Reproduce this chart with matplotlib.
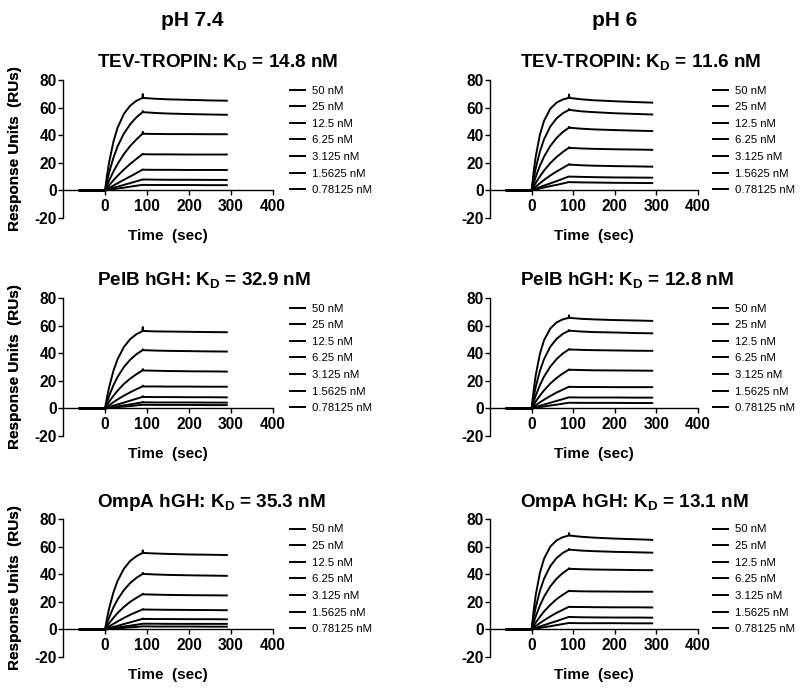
import matplotlib
matplotlib.use("Agg")
import matplotlib.pyplot as plt

plt.rcParams["font.family"] = ["Liberation Sans", "DejaVu Sans"]
plt.rcParams["mathtext.fontset"] = "custom"
plt.rcParams["mathtext.rm"] = "Liberation Sans"
plt.rcParams["mathtext.bf"] = "Liberation Sans:bold"
plt.rcParams["axes.unicode_minus"] = False

# time points (sec)
t = [-60, 0, 5, 10, 20, 30, 45, 60, 75, 89, 90, 91, 120, 150, 200, 250, 290]

conc_labels = ["50 nM", "25 nM", "12.5 nM", "6.25 nM", "3.125 nM", "1.5625 nM", "0.78125 nM"]

tev_74 = [
    [0, 0, 11.3, 20.6, 35.2, 45.5, 55.5, 61.4, 65.0, 67.0, 69.8, 67.0, 66.4, 66.0, 65.6, 65.2, 65.0],
    [0, 0, 7.0, 13.2, 23.6, 31.9, 41.2, 48.0, 53.0, 56.6, 57.5, 56.7, 56.1, 55.7, 55.3, 55.0, 54.8],
    [0, 0, 3.7, 7.3, 13.6, 19.2, 26.3, 32.2, 37.0, 41.0, 42.5, 41.0, 40.9, 40.8, 40.8, 40.7, 40.7],
    [0, 0, 1.9, 3.8, 7.3, 10.6, 15.1, 19.2, 22.9, 26.2, 26.5, 26.2, 26.1, 26.1, 26.0, 26.0, 26.0],
    [0, 0, 0.9, 1.8, 3.5, 5.2, 7.7, 10.1, 12.6, 15.0, 15.2, 15.0, 14.9, 14.9, 14.8, 14.8, 14.8],
    [0, 0, 0.5, 0.9, 1.9, 2.7, 4.0, 5.3, 6.6, 7.9, 7.9, 7.9, 7.8, 7.7, 7.7, 7.6, 7.6],
    [0, 0, 0.2, 0.5, 0.9, 1.4, 2.0, 2.7, 3.4, 4.0, 4.0, 4.0, 3.9, 3.9, 3.9, 3.8, 3.8],
]
tev_6 = [
    [0, 0, 13.7, 24.7, 40.4, 50.5, 59.2, 63.6, 65.9, 67.0, 69.5, 67.0, 66.0, 65.3, 64.6, 64.0, 63.6],
    [0, 0, 8.7, 16.2, 28.2, 37.1, 46.3, 52.2, 55.9, 58.2, 59.0, 58.3, 57.3, 56.7, 55.9, 55.4, 55.0],
    [0, 0, 5.2, 9.9, 17.9, 24.5, 32.2, 38.0, 42.3, 45.3, 46.0, 45.4, 44.7, 44.2, 43.7, 43.3, 43.0],
    [0, 0, 2.8, 5.5, 10.2, 14.4, 19.8, 24.2, 27.8, 30.8, 31.3, 30.8, 30.4, 30.1, 29.8, 29.6, 29.4],
    [0, 0, 1.4, 2.7, 5.2, 7.6, 10.8, 13.7, 16.3, 18.7, 19.0, 18.7, 18.2, 17.9, 17.6, 17.4, 17.2],
    [0, 0, 0.6, 1.2, 2.4, 3.5, 5.1, 6.7, 8.4, 10.0, 10.0, 10.0, 9.8, 9.6, 9.4, 9.3, 9.2],
    [0, 0, 0.4, 0.7, 1.4, 2.1, 3.1, 4.0, 5.0, 6.0, 6.0, 6.0, 5.8, 5.7, 5.5, 5.4, 5.3],
]
pelb_74 = [
    [0, 0, 8.4, 15.6, 27.1, 35.7, 44.5, 50.2, 53.8, 56.0, 59.0, 56.1, 55.8, 55.7, 55.5, 55.3, 55.2],
    [0, 0, 4.8, 9.2, 16.7, 22.8, 30.0, 35.3, 39.3, 42.1, 42.8, 42.2, 41.9, 41.7, 41.5, 41.3, 41.2],
    [0, 0, 2.5, 4.9, 9.1, 12.9, 17.7, 21.6, 24.8, 27.5, 28.5, 27.5, 27.3, 27.1, 26.9, 26.8, 26.7],
    [0, 0, 1.2, 2.3, 4.5, 6.5, 9.2, 11.7, 13.9, 15.9, 16.5, 15.9, 15.9, 15.8, 15.8, 15.7, 15.7],
    [0, 0, 0.5, 1.0, 2.0, 2.9, 4.2, 5.6, 7.0, 8.3, 8.9, 8.3, 8.2, 8.2, 8.1, 8.1, 8.0],
    [0, 0, 0.3, 0.5, 1.0, 1.5, 2.2, 2.9, 3.7, 4.4, 4.8, 4.4, 4.3, 4.3, 4.3, 4.2, 4.2],
    [0, 0, 0.2, 0.3, 0.6, 0.9, 1.3, 1.7, 2.2, 2.6, 2.8, 2.6, 2.5, 2.5, 2.5, 2.4, 2.4],
]
pelb_6 = [
    [0, 0, 13.4, 24.1, 39.6, 49.5, 57.9, 62.3, 64.5, 65.6, 67.5, 65.6, 64.9, 64.5, 64.0, 63.7, 63.4],
    [0, 0, 8.4, 15.7, 27.2, 35.8, 44.7, 50.4, 54.0, 56.2, 56.8, 56.3, 55.7, 55.3, 55.0, 54.6, 54.4],
    [0, 0, 4.9, 9.3, 16.9, 23.1, 30.3, 35.7, 39.8, 42.6, 43.0, 42.7, 42.4, 42.2, 42.0, 41.8, 41.7],
    [0, 0, 2.5, 5.0, 9.3, 13.1, 18.0, 22.0, 25.3, 28.0, 28.3, 28.0, 27.8, 27.6, 27.5, 27.4, 27.3],
    [0, 0, 1.2, 2.3, 4.4, 6.3, 9.0, 11.5, 13.6, 15.6, 15.8, 15.6, 15.5, 15.5, 15.4, 15.4, 15.4],
    [0, 0, 0.5, 1.0, 1.9, 2.8, 4.1, 5.4, 6.7, 8.0, 8.0, 8.0, 7.9, 7.9, 7.9, 7.8, 7.8],
    [0, 0, 0.2, 0.5, 1.0, 1.4, 2.1, 2.7, 3.4, 4.1, 4.1, 4.1, 4.0, 4.0, 4.0, 3.9, 3.9],
]
ompa_74 = [
    [0, 0, 8.3, 15.4, 26.8, 35.2, 44.0, 49.6, 53.1, 55.3, 57.3, 55.4, 55.0, 54.7, 54.3, 54.1, 53.9],
    [0, 0, 4.6, 8.7, 15.9, 21.7, 28.5, 33.6, 37.4, 40.1, 41.0, 40.2, 39.8, 39.5, 39.2, 39.0, 38.8],
    [0, 0, 2.3, 4.5, 8.4, 11.9, 16.3, 20.0, 22.9, 25.4, 25.9, 25.4, 25.2, 25.0, 24.8, 24.7, 24.6],
    [0, 0, 1.1, 2.1, 4.0, 5.8, 8.3, 10.6, 12.6, 14.4, 14.8, 14.4, 14.3, 14.2, 14.1, 14.0, 13.9],
    [0, 0, 0.5, 0.9, 1.8, 2.6, 3.9, 5.1, 6.4, 7.6, 7.9, 7.6, 7.5, 7.5, 7.4, 7.4, 7.3],
    [0, 0, 0.2, 0.5, 1.0, 1.4, 2.1, 2.7, 3.4, 4.1, 4.1, 4.1, 4.1, 4.0, 4.0, 4.0, 4.0],
    [0, 0, 0.1, 0.3, 0.5, 0.8, 1.1, 1.5, 1.8, 2.2, 2.2, 2.2, 2.1, 2.1, 2.1, 2.0, 2.0],
]
ompa_6 = [
    [0, 0, 13.9, 25.0, 41.0, 51.3, 60.0, 64.5, 66.8, 68.0, 69.8, 68.0, 67.1, 66.5, 65.8, 65.3, 64.9],
    [0, 0, 8.6, 16.1, 27.9, 36.8, 45.9, 51.7, 55.4, 57.7, 58.3, 57.8, 57.1, 56.7, 56.2, 55.9, 55.6],
    [0, 0, 5.0, 9.5, 17.3, 23.7, 31.2, 36.7, 40.9, 43.8, 44.3, 43.9, 43.6, 43.4, 43.2, 43.0, 42.9],
    [0, 0, 2.5, 4.9, 9.2, 13.0, 17.8, 21.9, 25.1, 27.8, 28.1, 27.8, 27.6, 27.5, 27.4, 27.3, 27.3],
    [0, 0, 1.2, 2.4, 4.6, 6.6, 9.4, 12.0, 14.2, 16.3, 16.5, 16.3, 16.2, 16.1, 16.0, 16.0, 15.9],
    [0, 0, 0.5, 1.1, 2.1, 3.1, 4.6, 6.0, 7.6, 9.0, 9.0, 9.0, 8.8, 8.7, 8.6, 8.6, 8.5],
    [0, 0, 0.3, 0.6, 1.1, 1.6, 2.3, 3.1, 3.9, 4.6, 4.6, 4.6, 4.5, 4.5, 4.5, 4.4, 4.4],
]

titles = [
    r"TEV-TROPIN: K$_\mathbf{D}$ = 14.8 nM", r"TEV-TROPIN: K$_\mathbf{D}$ = 11.6 nM",
    r"PelB hGH: K$_\mathbf{D}$ = 32.9 nM", r"PelB hGH: K$_\mathbf{D}$ = 12.8 nM",
    r"OmpA hGH: K$_\mathbf{D}$ = 35.3 nM", r"OmpA hGH: K$_\mathbf{D}$ = 13.1 nM",
]
panels = [tev_74, tev_6, pelb_74, pelb_6, ompa_74, ompa_6]
col_heads = ["pH 7.4", "pH 6"]

W, H = 800, 691
fig = plt.figure(figsize=(W / 100, H / 100), dpi=100)

col_left = [63, 490]
col_width = [210, 208]
row_top = [80, 298, 519]
ax_h = 138

for i, (curves, title) in enumerate(zip(panels, titles)):
    r, c = divmod(i, 2)
    x0 = col_left[c]
    y1 = row_top[r] + ax_h
    ax = fig.add_axes([x0 / W, 1 - y1 / H, col_width[c] / W, ax_h / H])
    lines = []
    for vals in curves:
        ln, = ax.plot(t, vals, color="black", lw=1.4)
        lines.append(ln)
    ax.set_xlim(-100, 400)
    ax.set_ylim(-20, 80)
    ax.set_xticks([0, 100, 200, 300, 400])
    ax.set_yticks([-20, 0, 20, 40, 60, 80])
    ax.spines["top"].set_visible(False)
    ax.spines["right"].set_visible(False)
    ax.spines["bottom"].set_position(("data", 0))
    for s in ("left", "bottom"):
        ax.spines[s].set_linewidth(1.0)
    ax.tick_params(axis="both", direction="out", length=3.5, width=1.0,
                   labelsize=11.2)
    ax.tick_params(axis="y", pad=1)
    ax.tick_params(axis="x", pad=3)
    for lab in ax.get_xticklabels() + ax.get_yticklabels():
        lab.set_fontweight("bold")
    ax.set_xlabel("Time  (sec)", fontsize=11, fontweight="bold")
    ax.xaxis.set_label_coords(0.5, -11 / ax_h, transform=ax.transAxes)
    ax.xaxis.label.set_va("top")
    ax.set_ylabel("Response Units  (RUs)", fontsize=11, fontweight="bold")
    ax.yaxis.set_label_coords((22 - x0) / col_width[c], 0.5)
    # title, left aligned
    tx = [97, 520][c]
    ax.text((tx - x0) / col_width[c], 1 + 12 / ax_h, title, transform=ax.transAxes,
            ha="left", va="baseline", fontsize=13.6, fontweight="bold")
    lx = [290, 713][c]
    ax.legend(lines, conc_labels, loc="upper left",
              bbox_to_anchor=((lx - x0) / col_width[c], 1 - 5.5 / ax_h),
              frameon=False, fontsize=8.2, handlelength=1.3, handletextpad=0.65,
              labelspacing=0.58, borderaxespad=0, borderpad=0)

fig.text(192 / W, 1 - 26 / H, col_heads[0], ha="center", va="baseline",
         fontsize=15, fontweight="bold")
fig.text(615 / W, 1 - 26 / H, col_heads[1], ha="center", va="baseline",
         fontsize=15, fontweight="bold")

fig.savefig("out.png", dpi=100)
